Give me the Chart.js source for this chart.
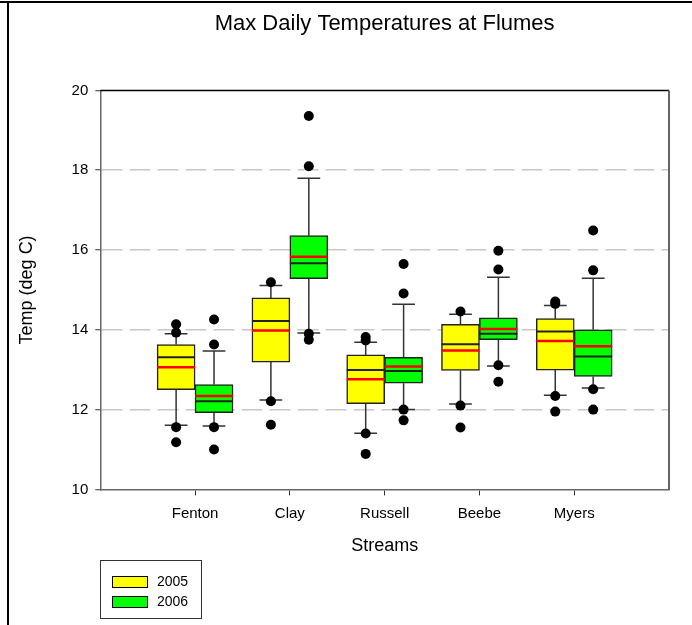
<!DOCTYPE html>
<html>
<head>
<meta charset="utf-8">
<script src="https://cdn.jsdelivr.net/npm/chart.js@4/dist/chart.umd.min.js"></script>
<style>
    body { margin: 0; background: #fff; font-family: 'Liberation Sans', Arial, sans-serif; }
    #wrap { position: relative; width: 692px; height: 625px; }
    #frameTop { position: absolute; left: 0; top: 1px; width: 692px; height: 2px; background: #000; }
    #frameLeft { position: absolute; left: 7px; top: 1px; width: 2px; height: 624px; background: #000; }
    #legend { position: absolute; left: 100px; top: 560px; width: 102px; height: 59px; border: 1px solid #333; box-sizing: border-box; }
    .item { position: absolute; left: 11px; font-size: 14px; color: #000; }
    .swatch { display: inline-block; width: 34px; height: 10px; border: 1px solid #000; vertical-align: middle; margin-right: 9px; }
</style>
</head>
<body>
<div id="wrap">
    <canvas id="chart"></canvas>
    <div id="frameTop"></div>
    <div id="frameLeft"></div>
    <div id="legend">
        <div class="item" style="top: 12px;"><span class="swatch" style="background:#ffff00"></span>2005</div>
        <div class="item" style="top: 32px;"><span class="swatch" style="background:#00ff00"></span>2006</div>
    </div>
</div>
<script>
const streams = ['Fenton', 'Clay', 'Russell', 'Beebe', 'Myers'];
const yTicks = [10, 12, 14, 16, 18, 20];

// 2005
const q1_2005   = [12.50, 13.19, 12.15, 12.98, 12.99];
const q3_2005   = [13.63, 14.80, 13.37, 14.14, 14.28];
const med_2005  = [13.31, 14.22, 12.99, 13.64, 13.96];
const mean_2005 = [13.06, 13.98, 12.76, 13.48, 13.72];
const lo_2005   = [11.61, 12.24, 11.41, 12.14, 12.36];
const hi_2005   = [13.90, 15.11, 13.69, 14.39, 14.61];
const out_2005  = [[14.14, 13.93, 11.56, 11.18], [15.19, 12.21, 11.62], [13.82, 13.73, 11.40, 10.89], [14.46, 12.10, 11.55], [14.71, 14.65, 12.34, 11.95]];

// 2006
const q1_2006   = [11.92, 15.28, 12.66, 13.75, 12.83];
const q3_2006   = [12.63, 16.36, 13.31, 14.30, 14.00];
const med_2006  = [12.21, 15.67, 12.97, 13.90, 13.33];
const mean_2006 = [12.34, 15.83, 13.08, 14.02, 13.59];
const lo_2006   = [11.59, 13.92, 12.00, 13.09, 12.54];
const hi_2006   = [13.47, 17.80, 14.64, 15.32, 15.29];
const out_2006  = [[14.26, 13.63, 11.56, 11.00], [19.36, 18.10, 13.90, 13.75], [15.65, 14.91, 12.00, 11.73], [15.98, 15.51, 13.11, 12.70], [16.49, 15.49, 12.51, 12.00]];

const OFF = 0.2;      // box centre offset from the stream tick
const HALF = 0.2;     // half box width (x units)
const CAP = 0.12;     // half whisker cap width

function boxData(q1, q3, shift) {
    return q1.map((v, i) => ({ x: i + 1 + shift, y: [v, q3[i]] }));
}

function hLines(vals, shift) {
    const pts = [];
    vals.forEach((v, i) => {
        const c = i + 1 + shift;
        pts.push({ x: c - HALF, y: v }, { x: c + HALF, y: v }, { x: c, y: null });
    });
    return pts;
}

function whiskers(q1, q3, lo, hi, shift) {
    const pts = [];
    q1.forEach((v, i) => {
        const c = i + 1 + shift;
        pts.push({ x: c, y: q3[i] }, { x: c, y: hi[i] }, { x: c, y: null });
        pts.push({ x: c - CAP, y: hi[i] }, { x: c + CAP, y: hi[i] }, { x: c, y: null });
        pts.push({ x: c, y: v }, { x: c, y: lo[i] }, { x: c, y: null });
        pts.push({ x: c - CAP, y: lo[i] }, { x: c + CAP, y: lo[i] }, { x: c, y: null });
    });
    return pts;
}

function outliers(list, shift) {
    const pts = [];
    list.forEach((vals, i) => vals.forEach(v => pts.push({ x: i + 1 + shift, y: v })));
    return pts;
}

const lineStyle = (color, width, order) => ({
    type: 'line', borderColor: color, borderWidth: width, pointRadius: 0,
    spanGaps: false, fill: false, order: order
});

const framePlugin = {
    id: 'frame',
    afterDatasetsDraw(chart) {
        const { ctx, chartArea: a } = chart;
        ctx.save();
        ctx.strokeStyle = '#000';
        ctx.lineWidth = 1.5;
        ctx.beginPath();
        ctx.moveTo(a.left, a.top);
        ctx.lineTo(a.right, a.top);
        ctx.stroke();
        ctx.strokeStyle = '#666';
        ctx.lineWidth = 2;
        ctx.beginPath();
        ctx.moveTo(a.right, a.top);
        ctx.lineTo(a.right, a.bottom);
        ctx.stroke();
        ctx.restore();
    }
};

Chart.defaults.font.family = "'Liberation Sans', Arial, sans-serif";
Chart.defaults.color = '#000';

new Chart(document.getElementById('chart'), {
    type: 'bar',
    data: {
        datasets: [
            Object.assign(lineStyle('#333', 1.5, 5), { label: 'w2005', data: whiskers(q1_2005, q3_2005, lo_2005, hi_2005, -OFF) }),
            Object.assign(lineStyle('#333', 1.5, 5), { label: 'w2006', data: whiskers(q1_2006, q3_2006, lo_2006, hi_2006, OFF) }),
            {
                label: '2005', data: boxData(q1_2005, q3_2005, -OFF), order: 4,
                backgroundColor: '#ffff00', borderColor: '#222', borderWidth: 1.5, borderSkipped: false
            },
            {
                label: '2006', data: boxData(q1_2006, q3_2006, OFF), order: 4,
                backgroundColor: '#00ff00', borderColor: '#222', borderWidth: 1.5, borderSkipped: false
            },
            Object.assign(lineStyle('#222', 2, 3), { label: 'm2005', data: hLines(med_2005, -OFF) }),
            Object.assign(lineStyle('#222', 2, 3), { label: 'm2006', data: hLines(med_2006, OFF) }),
            Object.assign(lineStyle('#ff0000', 2.5, 2), { label: 'a2005', data: hLines(mean_2005, -OFF) }),
            Object.assign(lineStyle('#ff0000', 2.5, 2), { label: 'a2006', data: hLines(mean_2006, OFF) }),
            {
                type: 'scatter', label: 'o', order: 1,
                data: outliers(out_2005, -OFF).concat(outliers(out_2006, OFF)),
                pointRadius: 5, backgroundColor: '#000', borderWidth: 0
            }
        ]
    },
    options: {
        responsive: true,
        maintainAspectRatio: false,
        animation: false,
        grouped: false,
        barThickness: 38,
        layout: { padding: { top: 0, left: 0, right: 23, bottom: 68 } },
        plugins: {
            legend: { display: false },
            tooltip: { enabled: false },
            title: {
                display: true,
                fullSize: false,
                text: 'Max Daily Temperatures at Flumes',
                font: { size: 22, weight: 'normal' },
                color: '#000',
                padding: { top: 11, bottom: 53 }
            }
        },
        scales: {
            x: {
                type: 'linear',
                min: 0,
                max: 6,
                offset: false,
                afterBuildTicks: axis => { axis.ticks = streams.map((s, i) => ({ value: i + 1 })); },
                ticks: {
                    callback: v => streams[v - 1],
                    font: { size: 15 },
                    padding: 9,
                    maxRotation: 0,
                    autoSkip: false
                },
                grid: { offset: false, drawOnChartArea: false, tickLength: 6, tickColor: '#333' },
                border: { color: '#666', width: 1.5 },
                title: { display: true, text: 'Streams', font: { size: 18 }, padding: { top: 4, bottom: 0 } }
            },
            y: {
                min: 10,
                max: 20,
                afterBuildTicks: axis => { axis.ticks = yTicks.map(v => ({ value: v })); },
                ticks: { font: { size: 15 }, padding: 7 },
                grid: {
                    color: ctx => (ctx.tick && (ctx.tick.value === 10 || ctx.tick.value === 20)) ? 'rgba(0,0,0,0)' : '#c8c8c8',
                    lineWidth: 1.5,
                    tickLength: 5,
                    tickColor: '#333',
                    tickWidth: 1
                },
                border: { color: '#666', width: 1.5, dash: [21, 7] },
                title: { display: true, text: 'Temp (deg C)', font: { size: 18 }, padding: { top: 16, bottom: 27 } }
            }
        }
    },
    plugins: [framePlugin]
});
</script>
</body>
</html>
